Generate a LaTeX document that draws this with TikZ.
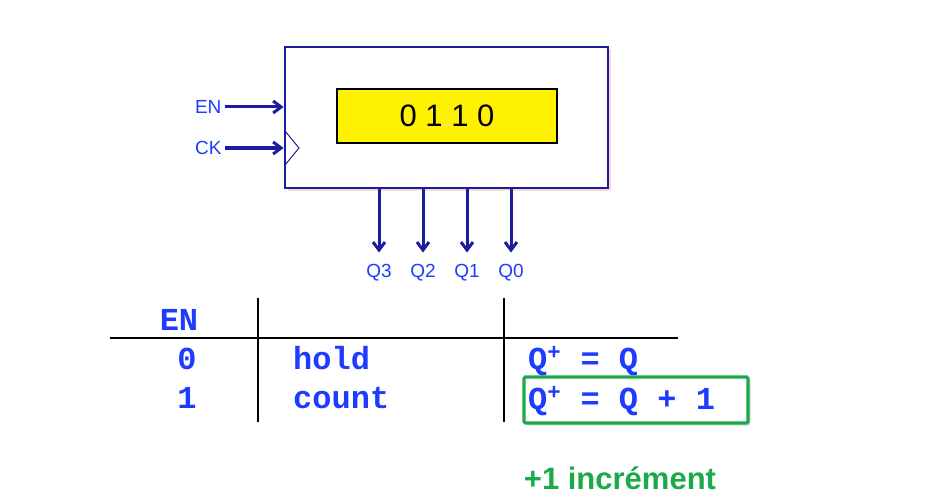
\documentclass[tikz,border=0pt]{standalone}
\usepackage{fontspec}
\setmainfont{Liberation Sans}
\newfontfamily\ttbold{Liberation Mono}
\usetikzlibrary{arrows.meta, positioning, shadows}
\definecolor{navy}{HTML}{1C1C9E}
\definecolor{txtblue}{HTML}{1E3CFF}
\definecolor{okgreen}{HTML}{1BAA48}
\tikzset{
  sig/.style={navy, line width=3pt, -{Straight Barb[length=8pt, width=12pt]}},
  lbl/.style={txtblue, font=\fontsize{19}{19}\selectfont, anchor=base},
  tt/.style={txtblue, font=\fontsize{32}{32}\selectfont\ttbold\bfseries, anchor=base, inner sep=0pt},
  tline/.style={black, line width=2.6pt}
}
\begin{document}
\begin{tikzpicture}[x=1pt, y=-1pt]
		\useasboundingbox (0,0) rectangle (942,500);
		% Bloki
		\node[draw=navy, line width=2.8pt, fill=white, minimum width=323pt, minimum height=141pt,
		      drop shadow={fill=red!45!brown!40, opacity=0.5, shadow xshift=2.5pt, shadow yshift=-2.5pt}] (cnt) at (446.5,117.5) {};
		\node[draw=black, line width=1.2pt, fill=yellow, minimum width=220pt, minimum height=54pt,
		      font=\fontsize{31}{31}\selectfont] (disp) at (447,116) {0 1 1 0};

		% Wejscia
		\node[lbl, anchor=east] (en) at (225,107) {EN};
		\node[lbl, anchor=east] (ck) at (225,148) {CK};
		\draw[sig] (en.east) -- (en.east -| cnt.west);
		\draw[sig] (ck.east) -- (ck.east -| cnt.west);
		\draw[navy, line width=1pt] (285,131) -- (299,148) -- (285,165);

		% Wyjscia
		\foreach \x/\q in {379/3, 423/2, 467/1, 511/0}{
			\node[lbl, inner sep=0pt] (q\q) at (\x,277) {Q\q};
			\draw[sig, shorten >=11pt] (cnt.south -| q\q) -- (q\q.north);
		}

		% Tabela
		\draw[tline] (258,298) -- (258,422);
		\draw[tline] (504,298) -- (504,422);
		\draw[tline] (110,338) -- (678,338);
		\node[tt] (ten) at (179,330) {EN};
		\node[tt] (e0) at (187,369) {0};
		\node[tt] (e1) at (187,408) {1};
		\node[tt, anchor=base west] (hold) at (293,369) {hold};
		\node[tt, anchor=base west] (count) at (293,408) {count};
		\node[tt, anchor=base west] (qhold) at (528,369) {Q\textsuperscript{+} = Q};
		\node[draw=okgreen, line width=3.2pt, rounded corners=1.5pt, minimum width=224pt, minimum height=46pt,
		      drop shadow={opacity=0.3, shadow xshift=2.5pt, shadow yshift=-2.5pt}, fill=white] (hl) at (636,400) {};
		\node[tt, anchor=base west] (qcount) at (528,409) {Q\textsuperscript{+} = Q + 1};

		\node[okgreen, font=\fontsize{31}{31}\selectfont\bfseries, anchor=base] (inc) at (620,489) {+1 incrément};
	\end{tikzpicture}
\end{document}
